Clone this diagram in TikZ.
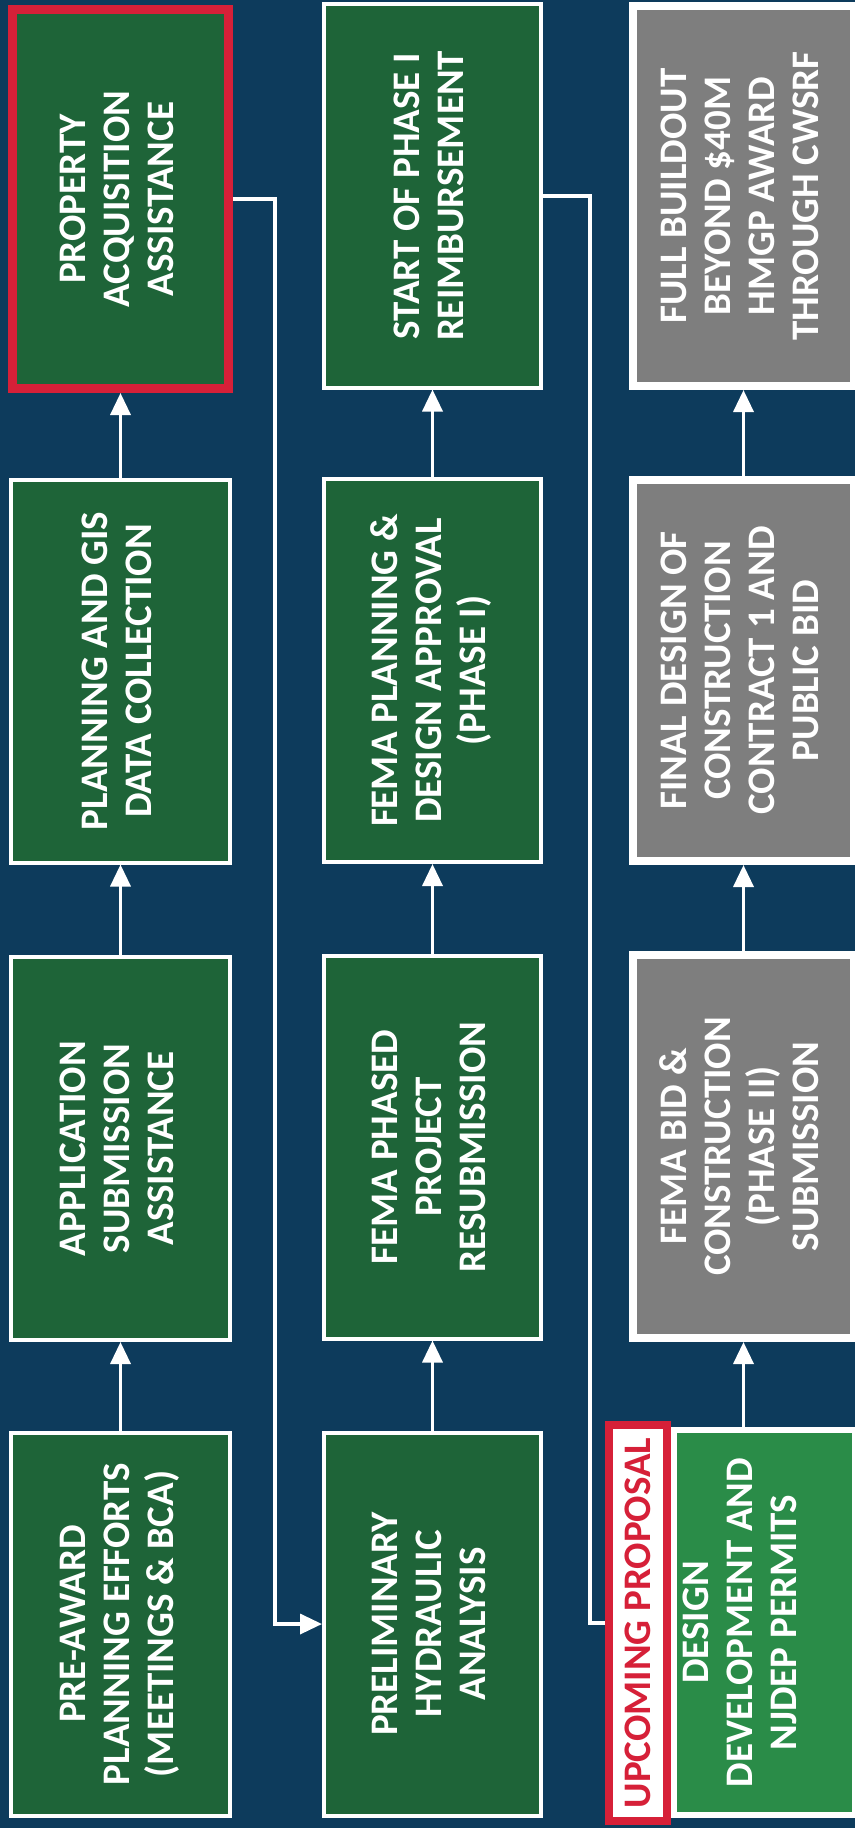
\documentclass[tikz,border=0pt]{standalone}
\usepackage{fontspec}
\setmainfont{Carlito}
\usetikzlibrary{arrows.meta}
\definecolor{navy}{RGB}{13,59,92}
\definecolor{dkgreen}{RGB}{30,100,56}
\definecolor{ltgreen}{RGB}{42,140,72}
\definecolor{boxgray}{RGB}{126,126,126}
\definecolor{alertred}{RGB}{214,32,56}
\newcommand\boxtext[1]{\rotatebox{90}{\begin{tabular}{@{}c@{}}#1\end{tabular}}}
\tikzset{
  boxfont/.style={font=\fontsize{39}{44}\selectfont\bfseries},
  gbox/.style={rectangle, draw=white, fill=dkgreen, line width=4pt, text=white,
    minimum width=219pt, minimum height=383pt, inner sep=0pt, boxfont},
  propbox/.style={gbox, draw=alertred, line width=9pt, minimum width=216pt, minimum height=379pt},
  graybox/.style={rectangle, draw=white, fill=boxgray, line width=8pt, text=white,
    minimum width=221pt, minimum height=381pt, inner sep=0pt, boxfont},
  ddbox/.style={rectangle, draw=white, fill=ltgreen, line width=6pt,
    minimum width=181pt, minimum height=385pt, inner sep=0pt},
  upcbox/.style={rectangle, draw=alertred, fill=white, line width=8pt, text=alertred,
    minimum width=58pt, minimum height=396pt, inner sep=0pt, boxfont},
  txt/.style={text=white, inner sep=0pt, boxfont},
  conn/.style={draw=white, line width=3.5pt},
  arr/.style={-{Triangle[width=20pt,length=22pt]}}
}
\begin{document}
\begin{tikzpicture}[x=1pt,y=-1pt]
\useasboundingbox (0,0) rectangle (855,1828);
\fill[navy] (0,0) rectangle (855,1828);
% column 1
\node[propbox] (prop) at (120.5,199) {\boxtext{PROPERTY\\ACQUISITION\\ASSISTANCE}};
\node[gbox] (gis) at (120.5,671) {\boxtext{PLANNING AND GIS\\DATA COLLECTION}};
\node[gbox] (app) at (120.5,1148.5) {\boxtext{APPLICATION\\SUBMISSION\\ASSISTANCE}};
\node[gbox] (pre) at (120.5,1624) {\boxtext{PRE-AWARD\\PLANNING EFFORTS\\(MEETINGS \& BCA)}};
% column 2
\node[gbox, minimum width=217pt] (start) at (432.5,196) {\boxtext{START OF PHASE I\\REIMBURSEMENT}};
\node[gbox, minimum width=217pt] (fpd) at (432.5,670.5) {\boxtext{FEMA PLANNING \&\\DESIGN APPROVAL\\(PHASE I)}};
\node[gbox, minimum width=217pt] (fpp) at (432.5,1147) {\boxtext{FEMA PHASED\\PROJECT\\RESUBMISSION}};
\node[gbox, minimum width=217pt] (prel) at (432.5,1624) {\boxtext{PRELIMINARY\\HYDRAULIC\\ANALYSIS}};
% column 3
\node[graybox, minimum height=380pt] (full) at (743.5,196) {\boxtext{FULL BUILDOUT\\BEYOND \$40M\\HMGP AWARD\\THROUGH CWSRF}};
\node[graybox] (fin) at (743.5,670.5) {\boxtext{FINAL DESIGN OF\\CONSTRUCTION\\CONTRACT 1 AND\\PUBLIC BID}};
\node[graybox, minimum height=383pt] (bid) at (743.5,1146.5) {\boxtext{FEMA BID \&\\CONSTRUCTION\\(PHASE II)\\SUBMISSION}};
\node[ddbox] (dd) at (764.5,1622.5) {};
\node[txt] (ddtext) at (744,1622.5) {\boxtext{DESIGN\\DEVELOPMENT AND\\NJDEP PERMITS}};
\node[upcbox] (upc) at (638,1623) {\rotatebox{90}{UPCOMING PROPOSAL}};
% vertical arrows
\draw[conn,arr] (pre.north) -- (app.south);
\draw[conn,arr] (app.north) -- (gis.south);
\draw[conn,arr] (gis.north) -- (prop.south);
\draw[conn,arr] (prel.north) -- (fpp.south);
\draw[conn,arr] (fpp.north) -- (fpd.south);
\draw[conn,arr] (fpd.north) -- (start.south);
\draw[conn,arr] (bid.south |- dd.north) -- (bid.south);
\draw[conn,arr] (bid.north) -- (fin.south);
\draw[conn,arr] (fin.north) -- (full.south);
% cross-column connectors
\coordinate (j1) at (275,0);
\coordinate (j2) at (590,0);
\draw[conn,arr] (prop.east) -| (j1 |- prel.west) -- (prel.west);
\draw[conn] (start.east) -| (j2 |- upc.west) -- (upc.west);
\end{tikzpicture}
\end{document}
